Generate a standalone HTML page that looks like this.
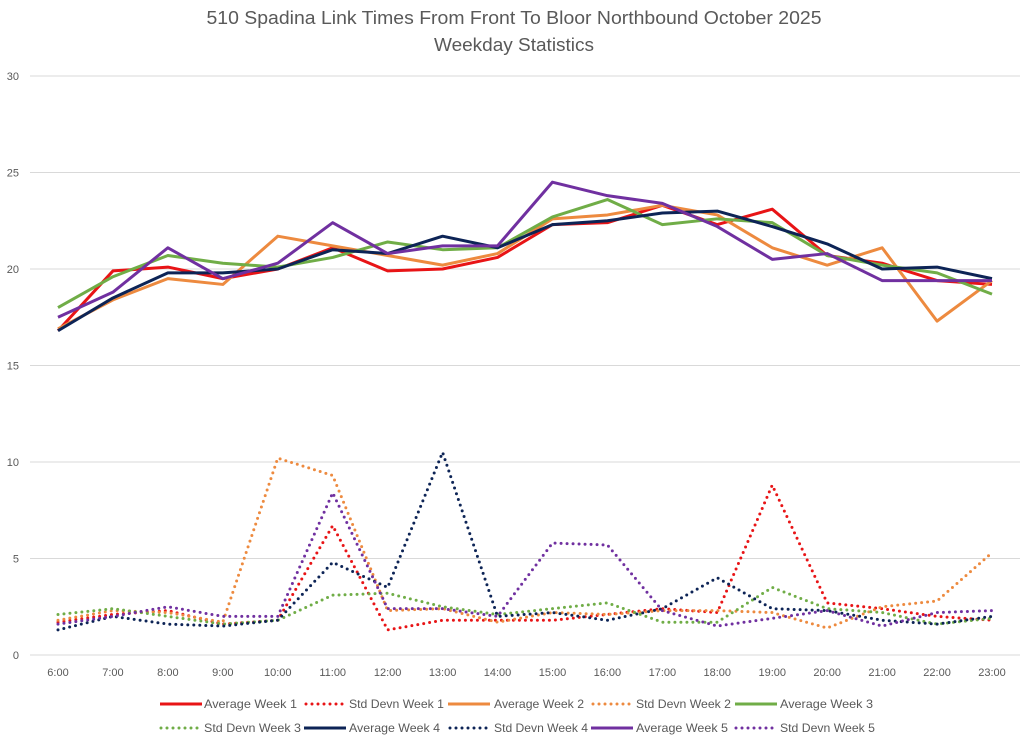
<!DOCTYPE html>
<html><head><meta charset="utf-8"><style>
body{margin:0;background:#fff;}
svg{display:block;font-family:"Liberation Sans",sans-serif;}
</style></head><body>
<svg id="chart" width="1024" height="737">
<text x="514" y="24" text-anchor="middle" font-size="18" fill="#595959" textLength="615" lengthAdjust="spacingAndGlyphs">510 Spadina Link Times From Front To Bloor Northbound October 2025</text>
<text x="514" y="51" text-anchor="middle" font-size="18" fill="#595959" textLength="160" lengthAdjust="spacingAndGlyphs">Weekday Statistics</text>
<g id="grid"></g><g id="series"></g><g id="legend"></g>
</svg>
<script>
const categories=["6:00","7:00","8:00","9:00","10:00","11:00","12:00","13:00","14:00","15:00","16:00","17:00","18:00","19:00","20:00","21:00","22:00","23:00"];
const yTicks=[0,5,10,15,20,25,30];
const avgWeek1=[16.8,19.9,20.1,19.5,20.0,21.1,19.9,20.0,20.6,22.3,22.4,23.3,22.3,23.1,20.7,20.3,19.4,19.2];
const avgWeek2=[16.9,18.4,19.5,19.2,21.7,21.2,20.7,20.2,20.8,22.6,22.8,23.3,22.8,21.1,20.2,21.1,17.3,19.4];
const avgWeek3=[18.0,19.6,20.7,20.3,20.1,20.6,21.4,21.0,21.1,22.7,23.6,22.3,22.6,22.4,20.7,20.2,19.8,18.7];
const avgWeek4=[16.8,18.5,19.8,19.8,20.0,21.0,20.8,21.7,21.1,22.3,22.5,22.9,23.0,22.2,21.3,20.0,20.1,19.5];
const avgWeek5=[17.5,18.8,21.1,19.5,20.3,22.4,20.8,21.2,21.2,24.5,23.8,23.4,22.2,20.5,20.8,19.4,19.4,19.4];
const sdWeek1=[1.7,2.1,2.3,1.6,1.8,6.7,1.3,1.8,1.8,1.8,2.1,2.4,2.2,8.8,2.7,2.4,2.0,1.8];
const sdWeek2=[1.8,2.3,2.2,1.7,10.2,9.3,2.3,2.4,1.7,2.2,2.1,2.3,2.3,2.2,1.4,2.5,2.8,5.3];
const sdWeek3=[2.1,2.4,2.0,1.6,1.8,3.1,3.2,2.5,2.1,2.4,2.7,1.7,1.7,3.5,2.4,2.2,1.6,1.9];
const sdWeek4=[1.3,2.0,1.6,1.5,1.8,4.8,3.5,10.5,2.0,2.2,1.8,2.4,4.0,2.4,2.3,1.8,1.6,2.0];
const sdWeek5=[1.6,2.0,2.5,2.0,2.0,8.4,2.4,2.4,2.0,5.8,5.7,2.3,1.5,1.9,2.3,1.5,2.2,2.3];

const NS="http://www.w3.org/2000/svg";
const x=i=>58+i*(992-58)/(categories.length-1);
const y=v=>655-v*(655-76)/30;
function mk(tag,attrs,parent){const e=document.createElementNS(NS,tag);for(const k in attrs)e.setAttribute(k,attrs[k]);parent.appendChild(e);return e;}
const grid=document.getElementById('grid');
yTicks.forEach(t=>{
  const l=mk('line',{x1:30,x2:1020,y1:y(t),y2:y(t),stroke:'#d9d9d9','stroke-width':1},grid);
  
  
  const tx=mk('text',{x:19,y:y(t)+4,'text-anchor':'end','font-size':11,fill:'#595959'},grid);
  tx.textContent=t;
  
  
});
categories.forEach((c,i)=>{
  const tx=mk('text',{x:x(i),y:676,'text-anchor':'middle','font-size':11,fill:'#595959'},grid);
  tx.textContent=c;
  
  
});
const series=[
 {name:'Average Week 1',d:avgWeek1,c:'#e81416',dot:false},
 {name:'Std Devn Week 1',d:sdWeek1,c:'#e81416',dot:true},
 {name:'Average Week 2',d:avgWeek2,c:'#ed8a3f',dot:false},
 {name:'Std Devn Week 2',d:sdWeek2,c:'#ed8a3f',dot:true},
 {name:'Average Week 3',d:avgWeek3,c:'#70ad47',dot:false},
 {name:'Std Devn Week 3',d:sdWeek3,c:'#70ad47',dot:true},
 {name:'Average Week 4',d:avgWeek4,c:'#0d2456',dot:false},
 {name:'Std Devn Week 4',d:sdWeek4,c:'#0d2456',dot:true},
 {name:'Average Week 5',d:avgWeek5,c:'#7030a0',dot:false},
 {name:'Std Devn Week 5',d:sdWeek5,c:'#7030a0',dot:true}];
const sg=document.getElementById('series');
function style(s){return s.dot?{stroke:s.c,'stroke-width':3,fill:'none','stroke-dasharray':'0 6','stroke-linecap':'round','stroke-linejoin':'round'}:{stroke:s.c,'stroke-width':3,fill:'none','stroke-linejoin':'round'};}
[1,3,5,7,9,0,2,4,6,8].forEach(k=>{
  const s=series[k];
  const p=mk('polyline',Object.assign({points:s.d.map((v,i)=>x(i)+','+y(v)).join(' ')},style(s)),sg);
  
  
});
const lg=document.getElementById('legend');
const pos=[[160,704,204,93],[305,704,349,95],[448,704,494,90],[592,704,636,95],[735,704,780,93],[160,728,204,97],[304,728,349,91],[449,728,494,94],[591,728,636,92],[735,728,780,95]];
series.forEach((s,k)=>{
  const [lx,ly,tx,tw]=pos[k];
  const g=mk('g',{},lg);
  
  
  mk('line',Object.assign({x1:lx+(s.dot?1:0),x2:lx+(s.dot?38:42),y1:ly,y2:ly},style(s)),g);
  const t=mk('text',{x:tx,y:ly+4,'font-size':12,fill:'#595959',textLength:tw,lengthAdjust:'spacingAndGlyphs'},g);
  t.textContent=s.name;
});
</script>
</body></html>
